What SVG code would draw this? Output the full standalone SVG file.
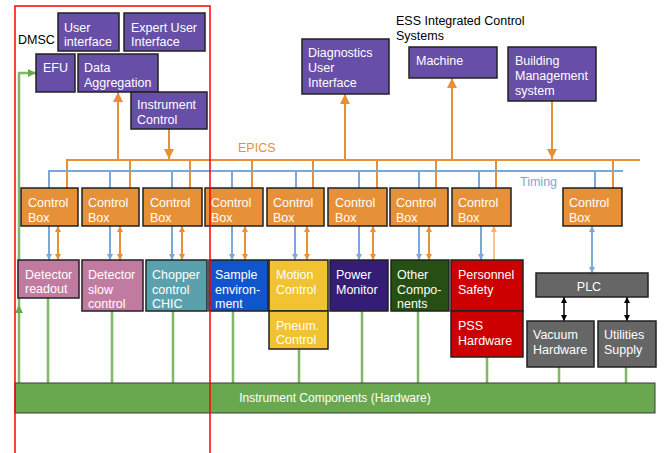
<svg xmlns="http://www.w3.org/2000/svg" width="667" height="453" viewBox="0 0 667 453">
<defs>
<style>
text{font-family:"Liberation Sans",Arial,sans-serif;font-size:12.5px;fill:#fff}
.lbl{fill:#000}
.box{stroke:#222;stroke-width:1.5}
.pur{fill:#674ea7}
.org{fill:#e69138}
.ep{stroke:#e69138;stroke-width:2;fill:none}
.tm{stroke:#7ba7d9;stroke-width:2;fill:none}
.gr{stroke:#7fb866;stroke-width:2.5;fill:none}
.bk{stroke:#000;stroke-width:1.5;fill:none}
.lo{stroke:#f6b26b;stroke-width:1.5;fill:none}
</style>
<marker id="ao" viewBox="0 0 10 10" refX="10" refY="5" markerUnits="userSpaceOnUse" markerWidth="10" markerHeight="10" orient="auto-start-reverse"><path d="M0,0L10,5L0,10z" fill="#e69138"/></marker>
<marker id="aos" viewBox="0 0 10 10" refX="10" refY="5" markerUnits="userSpaceOnUse" markerWidth="7" markerHeight="6" orient="auto-start-reverse"><path d="M0,0L10,5L0,10z" fill="#e69138"/></marker>
<marker id="alo" viewBox="0 0 10 10" refX="10" refY="5" markerUnits="userSpaceOnUse" markerWidth="7" markerHeight="6" orient="auto-start-reverse"><path d="M0,0L10,5L0,10z" fill="#f6b26b"/></marker>
<marker id="at" viewBox="0 0 10 10" refX="10" refY="5" markerUnits="userSpaceOnUse" markerWidth="7" markerHeight="6" orient="auto-start-reverse"><path d="M0,0L10,5L0,10z" fill="#7ba7d9"/></marker>
<marker id="ab" viewBox="0 0 10 10" refX="10" refY="5" markerUnits="userSpaceOnUse" markerWidth="7" markerHeight="6" orient="auto-start-reverse"><path d="M0,0L10,5L0,10z" fill="#000"/></marker>
<marker id="ag" viewBox="0 0 10 10" refX="10" refY="5" markerUnits="userSpaceOnUse" markerWidth="9" markerHeight="8" orient="auto-start-reverse"><path d="M0,0L10,5L0,10z" fill="#6aa84f"/></marker>
</defs>
<rect width="667" height="453" fill="#fff"/>

<g id="connectors">
<!-- EPICS bus -->
<path class="ep" d="M67,188V160H640"/>
<path class="ep" d="M130,188V160M190,188V160M252,188V160M313,188V160M377,188V160M436,188V160M496,188V160M613,188V160"/>
<path class="ep" d="M118,160V92" marker-end="url(#ao)"/>
<path class="ep" d="M169,129V159" marker-end="url(#ao)"/>
<path class="ep" d="M345,160V94" marker-end="url(#ao)"/>
<path class="ep" d="M452,160V78" marker-end="url(#ao)"/>
<path class="ep" d="M552,101V159" marker-end="url(#ao)"/>
<!-- Timing bus -->
<path class="tm" d="M49,188V171H623"/>
<path class="tm" d="M110,188V171M172,188V171M232,188V171M296,188V171M359,188V171M419,188V171M479,188V171M595,188V171"/>
<!-- control box to component -->
<g class="tm" stroke-width="1.5">
<path d="M49,226V260" marker-end="url(#at)"/>
<path d="M110,226V260" marker-end="url(#at)"/>
<path d="M172,226V260" marker-end="url(#at)"/>
<path d="M232,226V260" marker-end="url(#at)"/>
<path d="M295,226V260" marker-end="url(#at)"/>
<path d="M359,226V260" marker-end="url(#at)"/>
<path d="M419,226V260" marker-end="url(#at)"/>
<path d="M481,226V260" marker-end="url(#at)"/>
<path d="M592,226V273" marker-start="url(#at)" marker-end="url(#at)"/>
</g>
<g class="ep" stroke-width="1.5">
<path d="M58,226V260" marker-start="url(#aos)" marker-end="url(#aos)"/>
<path d="M120,226V260" marker-start="url(#aos)" marker-end="url(#aos)"/>
<path d="M182,226V260" marker-start="url(#aos)" marker-end="url(#aos)"/>
<path d="M245,226V260" marker-start="url(#aos)" marker-end="url(#aos)"/>
<path d="M307,226V260" marker-start="url(#aos)" marker-end="url(#aos)"/>
<path d="M373,226V260" marker-start="url(#aos)" marker-end="url(#aos)"/>
<path d="M429,226V260" marker-start="url(#aos)" marker-end="url(#aos)"/>
</g>
<path class="lo" d="M494,260V226" marker-end="url(#alo)"/>
<path class="bk" d="M564,297V321" marker-start="url(#ab)" marker-end="url(#ab)"/>
<path class="bk" d="M627,297V321" marker-start="url(#ab)" marker-end="url(#ab)"/>
<!-- green lines to hardware -->
<path class="gr" d="M48,298V383M112,311V383M173,311V383M233,311V383M299,349V383M362,311V383M418,311V383M487,357V383M559,367V383M626,367V383"/>
<path class="gr" d="M19,383V305" marker-end="url(#ag)"/>
<path class="gr" d="M19,305V73H36" marker-end="url(#ag)"/>
</g>

<g id="labels">
<text class="lbl" x="18" y="44">DMSC</text>
<text class="lbl" x="396" y="25">ESS Integrated Control</text>
<text class="lbl" x="396" y="40">Systems</text>
<text x="238" y="152" style="fill:#e69138">EPICS</text>
<text x="520" y="186" style="fill:#7ba7d9">Timing</text>
</g>

<g id="user-interface"><rect class="box pur" x="58" y="13" width="61" height="38"/><text x="64" y="32">User</text><text x="64" y="46">interface</text></g>
<g id="expert-user-interface"><rect class="box pur" x="124" y="13" width="81" height="38"/><text x="131" y="32">Expert User</text><text x="131" y="46">Interface</text></g>
<g id="efu"><rect class="box pur" x="36" y="54" width="39" height="38"/><text x="43" y="72">EFU</text></g>
<g id="data-aggregation"><rect class="box pur" x="78" y="54" width="80" height="38"/><text x="84" y="72">Data</text><text x="84" y="86.5">Aggregation</text></g>
<g id="instrument-control"><rect class="box pur" x="131" y="92" width="76" height="37"/><text x="137" y="109">Instrument</text><text x="137" y="124">Control</text></g>
<g id="diagnostics-ui"><rect class="box pur" x="302" y="39" width="87" height="55"/><text x="308" y="57">Diagnostics</text><text x="308" y="72">User</text><text x="308" y="87">Interface</text></g>
<g id="machine"><rect class="box pur" x="409" y="47" width="88" height="31"/><text x="416" y="65">Machine</text></g>
<g id="building-management"><rect class="box pur" x="508" y="47" width="88" height="54"/><text x="515" y="65">Building</text><text x="515" y="80">Management</text><text x="515" y="95">system</text></g>

<g id="cb1"><rect class="box org" x="21" y="188" width="57" height="38"/><text x="28" y="207">Control</text><text x="28" y="222">Box</text></g>
<g id="cb2"><rect class="box org" x="82" y="188" width="57" height="38"/><text x="88" y="207">Control</text><text x="88" y="222">Box</text></g>
<g id="cb3"><rect class="box org" x="143" y="188" width="59" height="38"/><text x="150" y="207">Control</text><text x="150" y="222">Box</text></g>
<g id="cb4"><rect class="box org" x="205" y="188" width="58" height="38"/><text x="211" y="207">Control</text><text x="211" y="222">Box</text></g>
<g id="cb5"><rect class="box org" x="267" y="188" width="57" height="38"/><text x="273" y="207">Control</text><text x="273" y="222">Box</text></g>
<g id="cb6"><rect class="box org" x="328" y="188" width="59" height="38"/><text x="335" y="207">Control</text><text x="335" y="222">Box</text></g>
<g id="cb7"><rect class="box org" x="390" y="188" width="58" height="38"/><text x="396" y="207">Control</text><text x="396" y="222">Box</text></g>
<g id="cb8"><rect class="box org" x="452" y="188" width="59" height="38"/><text x="458" y="207">Control</text><text x="458" y="222">Box</text></g>
<g id="cb9"><rect class="box org" x="563" y="188" width="59" height="38"/><text x="569" y="207">Control</text><text x="569" y="222">Box</text></g>

<g id="detector-readout"><rect class="box" fill="#c27ba0" x="18" y="260" width="61" height="38"/><text x="25" y="279">Detector</text><text x="25" y="293">readout</text></g>
<g id="detector-slow-control"><rect class="box" fill="#c27ba0" x="82" y="260" width="61" height="51"/><text x="88" y="279">Detector</text><text x="88" y="293.5">slow</text><text x="88" y="308">control</text></g>
<g id="chopper-control"><rect class="box" fill="#5ba1ad" x="146" y="260" width="61" height="51"/><text x="152" y="279">Chopper</text><text x="152" y="293.5">control</text><text x="152" y="308">CHIC</text></g>
<g id="sample-environment"><rect class="box" fill="#1155cc" x="209" y="260" width="59" height="51"/><text x="215" y="279">Sample</text><text x="215" y="293.5">environ-</text><text x="215" y="308">ment</text></g>
<g id="motion-control"><rect class="box" fill="#f1c232" x="269" y="260" width="59" height="51"/><text x="276" y="279">Motion</text><text x="276" y="293.5">Control</text></g>
<g id="pneum-control"><rect class="box" fill="#f1c232" x="269" y="311" width="59" height="38"/><text x="276" y="330">Pneum.</text><text x="276" y="344">Control</text></g>
<g id="power-monitor"><rect class="box" fill="#351c75" x="330" y="260" width="58" height="51"/><text x="336" y="279">Power</text><text x="336" y="293.5">Monitor</text></g>
<g id="other-components"><rect class="box" fill="#274e13" x="391" y="260" width="58" height="51"/><text x="397" y="279">Other</text><text x="397" y="293.5">Compo-</text><text x="397" y="308">nents</text></g>
<g id="personnel-safety"><rect class="box" fill="#cc0000" x="451" y="260" width="72" height="51"/><text x="458" y="279">Personnel</text><text x="458" y="293.5">Safety</text></g>
<g id="pss-hardware"><rect class="box" fill="#cc0000" x="451" y="311" width="72" height="46"/><text x="458" y="330">PSS</text><text x="458" y="345">Hardware</text></g>
<g id="plc"><rect class="box" fill="#666" x="536" y="273" width="112" height="24"/><text x="589" y="291" text-anchor="middle">PLC</text></g>
<g id="vacuum-hardware"><rect class="box" fill="#666" x="527" y="321" width="67" height="46"/><text x="533" y="339">Vacuum</text><text x="533" y="353.5">Hardware</text></g>
<g id="utilities-supply"><rect class="box" fill="#666" x="598" y="321" width="58" height="46"/><text x="604" y="339">Utilities</text><text x="604" y="353.5">Supply</text></g>

<g id="instrument-components"><rect x="15" y="383" width="640" height="30" fill="#6aa84f" stroke="#3a3a3a" stroke-width="1"/><text x="335" y="402" text-anchor="middle" style="font-size:12px">Instrument Components (Hardware)</text></g>

<g id="dmsc-frame"><rect x="15" y="6" width="195" height="470" fill="none" stroke="#ff0000" stroke-width="1.5"/></g>
</svg>
